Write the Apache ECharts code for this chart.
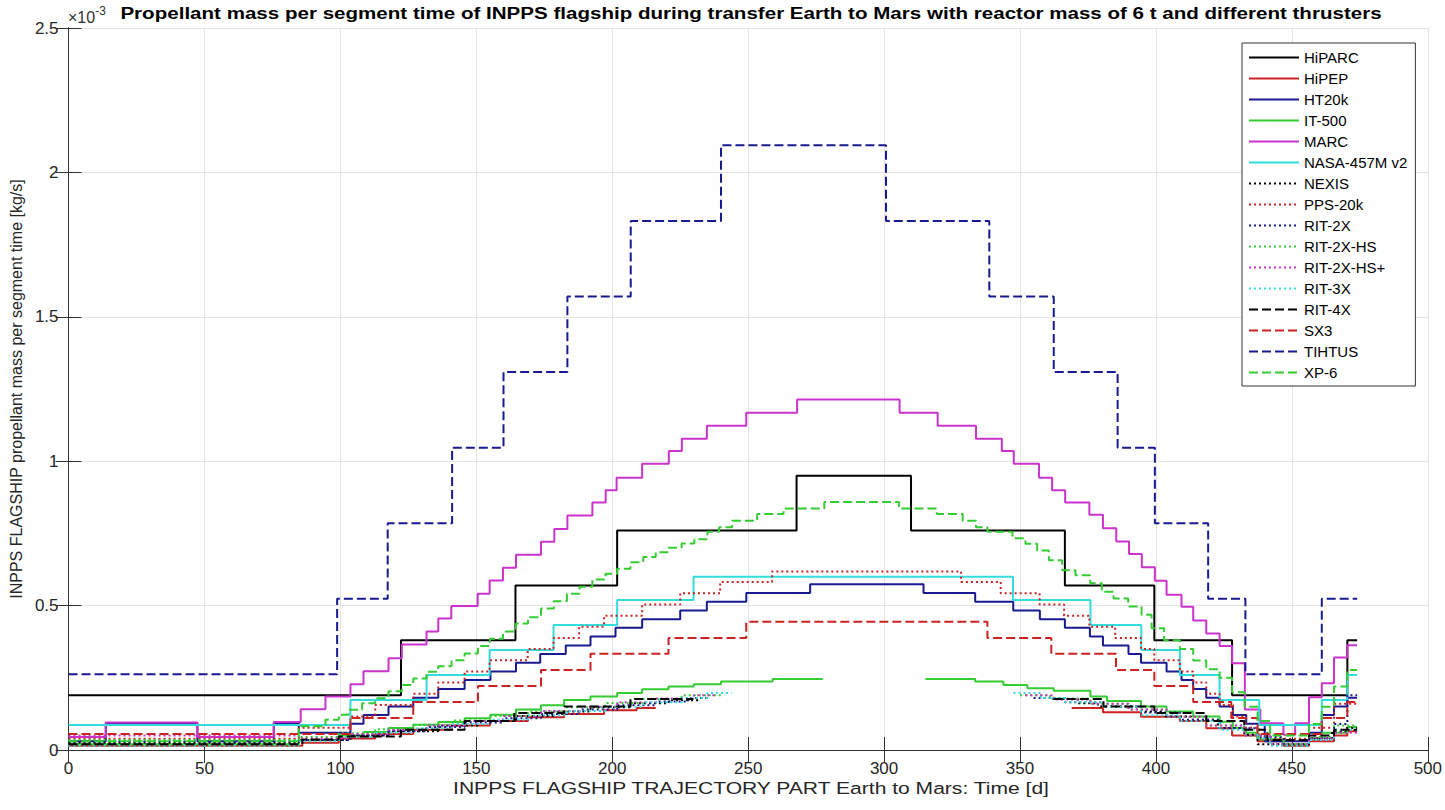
<!DOCTYPE html>
<html><head><meta charset="utf-8">
<script src="https://cdn.jsdelivr.net/npm/echarts@6/dist/echarts.min.js"></script>
<style>html,body{margin:0;padding:0;background:#fff}#c{width:1445px;height:810px}</style>
</head><body><div id="c"></div>
<script>
// All values in units of 1e-3 kg/s. Each series: segment start days (last entry = end day) and segment values.
const names = ['HiPARC','HiPEP','HT20k','IT-500','MARC','NASA-457M v2','NEXIS','PPS-20k','RIT-2X','RIT-2X-HS','RIT-2X-HS+','RIT-3X','RIT-4X','SX3','TIHTUS','XP-6'];

const hiparcDays = [0,122.3,164.4,201.8,267.8,309.9,366.5,399.4,428,470.4,474];
const hiparcVals = [0.19,0.38,0.57,0.76,0.95,0.76,0.57,0.38,0.19,0.38];

const hipepDays = [0,86,99.4,112.8,126.8,140.9,155,169,182.3,197,209,216,369,380.5,394.5,408.8,418.5,428,437.4,447,456.3,465.5,470.4,474];
const hipepVals = [0.015,0.025,0.04,0.055,0.07,0.085,0.1,0.113,0.125,0.138,0.145,null,0.145,0.131,0.115,0.1,0.075,0.05,0.03,0.015,0.03,0.05,0.065];

const ht20kDays = [0,13.7,47.4,75.5,84.7,103.7,108.5,117.7,126.8,136,145.7,155.2,164.6,173.5,182.9,192,201.2,211,225,234.8,249.3,272.8,314.5,333.5,347.5,357.3,366.5,375.7,380.5,389.9,394.5,403.9,409.4,413.7,418.5,423.4,428.3,433.2,440,456.3,461,465.5,470.4,474];
const ht20kVals = [0.03,0.093,0.03,0.093,0.06,0.091,0.121,0.151,0.181,0.211,0.242,0.272,0.302,0.332,0.362,0.393,0.423,0.453,0.483,0.513,0.544,0.574,0.544,0.513,0.483,0.453,0.423,0.393,0.362,0.332,0.302,0.272,0.242,0.211,0.181,0.151,0.121,0.091,0.03,0.06,0.121,0.151,0.181];

const it500Days = [0,84.7,99.4,108.5,117.7,126.8,136,145.7,155.2,164.6,173.8,182.3,192,201.8,211,220.7,230,240,259,277.4,315.2,333.5,343.9,352.7,362.4,375.9,382,394.5,403.9,413.7,423.4,428.3,433.2,437.4,447,456.3,461,470.4,474];
const it500Vals = [0.02,0.035,0.05,0.062,0.076,0.087,0.097,0.11,0.122,0.14,0.155,0.173,0.185,0.197,0.21,0.22,0.228,0.237,0.246,null,0.246,0.237,0.225,0.214,0.205,0.185,0.17,0.151,0.133,0.116,0.098,0.076,0.06,0.037,0.02,0.04,0.06,0.08];

const marcDays = [0,13.7,47.4,75.5,85.4,94.5,103.7,108.5,117.7,122.6,131.7,136,140.8,150.5,154.9,159.8,164.6,173.8,178.7,183.5,192.7,197.6,201.6,211,220.8,225.6,234.8,249.3,268,305.7,319.7,333.8,343.3,347.7,357,361.8,366.6,375.5,380.5,385.4,390.1,394.8,399.6,403.9,409.4,413.7,418.5,423.4,428,432.7,438.4,446.9,451.2,456.3,461,465.5,470.4,474];
const marcVals = [0.045,0.095,0.045,0.097,0.141,0.185,0.228,0.273,0.318,0.365,0.41,0.455,0.499,0.541,0.587,0.631,0.676,0.721,0.765,0.812,0.857,0.899,0.943,0.991,1.035,1.078,1.123,1.168,1.214,1.168,1.123,1.078,1.035,0.991,0.943,0.899,0.857,0.815,0.768,0.722,0.679,0.633,0.586,0.538,0.496,0.448,0.403,0.36,0.3,0.14,0.093,0.053,0.093,0.183,0.231,0.32,0.363];

const nasaDays = [0,103.7,131.7,154.9,178.4,201.8,229.9,347.4,375.9,394.6,408.8,423.4,438,461,470.4,474];
const nasaVals = [0.0866,0.173,0.26,0.346,0.433,0.519,0.6,0.519,0.433,0.346,0.26,0.173,0.0866,0.173,0.26];

const nexisDays = [0,84.7,103.7,117.7,136,150.6,164.6,178.4,192,206.7,220.7,232.7,362,371.3,378.7,394.5,403.2,413,422.8,432.5,437.4,456.3,464.8,469.7,474];
const nexisVals = [0.025,0.035,0.05,0.065,0.085,0.1,0.118,0.133,0.148,0.162,0.172,null,0.177,0.162,0.151,0.133,0.116,0.105,0.076,0.053,0.02,0.041,0.064,0.076];

const ppsDays = [0,84.7,103.7,112.8,126.8,136,145.7,154.9,168.9,178.4,187.8,197,211,225,239.7,258.8,328.3,342.9,357.2,366.2,375.5,385,394.5,399.4,408.8,413.7,418.5,423.4,428.3,433,438,456.3,465.5,474];
const ppsVals = [0.039,0.077,0.116,0.156,0.195,0.234,0.272,0.311,0.35,0.388,0.427,0.465,0.504,0.543,0.582,0.618,0.582,0.543,0.504,0.465,0.427,0.388,0.35,0.311,0.272,0.234,0.195,0.156,0.116,0.077,0.039,0.077,0.16];

const rit2xDays = [0,84.7,103.7,117.7,131.7,145.7,159.8,173.8,188,201.8,216,228,236,355,366.6,380.5,394.5,408.8,423.4,437.4,447,456.3,465.5,470.4,474];
const rit2xVals = [0.03,0.035,0.05,0.065,0.08,0.095,0.11,0.125,0.14,0.155,0.168,0.18,null,0.18,0.165,0.15,0.13,0.105,0.075,0.045,0.015,0.04,0.09,0.19];

const rit2xhsDays = [0,84.7,99.4,112.8,126.8,140.9,155,169,183.3,197.5,211.4,225.5,240,350,361,375.9,389.9,403.9,418.5,432.5,442,456.3,465.5,474];
const rit2xhsVals = [0.035,0.045,0.058,0.072,0.087,0.102,0.118,0.133,0.148,0.163,0.177,0.19,null,0.19,0.178,0.16,0.14,0.115,0.085,0.05,0.02,0.045,0.085];

const rit2xhspDays = [0,84.7,103.7,117.7,131.7,145.7,159.8,173.8,188,201.8,216,230,238,352,362.4,375.9,389.9,403.9,418.5,432.5,442,456.3,465.5,474];
const rit2xhspVals = [0.05,0.04,0.055,0.07,0.085,0.1,0.118,0.135,0.15,0.165,0.178,0.19,null,0.19,0.175,0.16,0.14,0.115,0.085,0.05,0.02,0.04,0.06];

const rit3xDays = [0,84.7,99.4,112.8,126.8,140.9,155,169,183.3,197.5,211.4,225.5,235,243.9,347.6,357.6,366.6,380.5,394.5,408.8,423.4,437.4,442,456.3,465.5,474];
const rit3xVals = [0.015,0.03,0.045,0.06,0.075,0.09,0.105,0.12,0.135,0.15,0.165,0.18,0.197,null,0.197,0.18,0.165,0.15,0.12,0.1,0.07,0.04,0.015,0.035,0.07];

const rit4xDays = [0,86,99.4,122.3,145.7,164,182.3,206.7,229.9,362.4,380.7,399.4,418.5,432.5,441,456.3,465.5,474];
const rit4xVals = [0.02,0.036,0.047,0.07,0.1,0.128,0.151,0.177,null,0.177,0.151,0.128,0.1,0.07,0.035,0.05,0.07];

const sx3Days = [0,103.7,126.8,150.6,173.8,192,220.7,249.3,338,361.5,385.3,399.4,413.7,427.7,437.4,461,470.4,474];
const sx3Vals = [0.0555,0.111,0.166,0.222,0.277,0.333,0.388,0.444,0.388,0.333,0.277,0.222,0.166,0.111,0.0555,0.111,0.166];

const tihtusDays = [0,98.8,117.4,141.1,160,183.5,206.8,240,300.7,338.7,362.4,385.9,399.6,419.2,432.9,461,474];
const tihtusVals = [0.262,0.524,0.785,1.047,1.309,1.57,1.832,2.094,1.832,1.57,1.309,1.047,0.785,0.524,0.262,0.524];

const xp6Days = [0,84.7,94.5,99.4,103,108,112.8,117.7,122.6,126.8,131.7,136,140.9,145.7,150.6,155,159.8,164.6,169,173.8,178.5,183.3,188,192.7,197.5,201.8,206.7,211.4,216,220.7,225.5,230.2,235,239.3,244.1,253.3,263,278,305.5,319.4,328.9,333.8,338,347.2,352,356.3,360.6,365.5,370.4,375.8,380.1,384.4,389.8,394.7,398.4,403,408.8,413.7,418.5,423.4,428,432.6,437.4,442,456.3,461,465.5,470.4,474];
const xp6Vals = [0.03,0.082,0.105,0.122,0.139,0.162,0.179,0.203,0.225,0.248,0.271,0.29,0.311,0.334,0.36,0.385,0.41,0.438,0.46,0.49,0.515,0.541,0.565,0.59,0.61,0.628,0.65,0.668,0.685,0.70,0.715,0.73,0.756,0.771,0.794,0.817,0.836,0.859,0.836,0.817,0.794,0.771,0.756,0.733,0.714,0.691,0.657,0.622,0.605,0.577,0.548,0.525,0.497,0.468,0.422,0.38,0.35,0.31,0.28,0.25,0.2,0.15,0.1,0.05,0.09,0.15,0.22,0.277];

const xTickInterval = 50, yTickInterval = 0.5;

const seriesData = [
  [hiparcDays, hiparcVals], [hipepDays, hipepVals], [ht20kDays, ht20kVals], [it500Days, it500Vals],
  [marcDays, marcVals], [nasaDays, nasaVals], [nexisDays, nexisVals], [ppsDays, ppsVals],
  [rit2xDays, rit2xVals], [rit2xhsDays, rit2xhsVals], [rit2xhspDays, rit2xhspVals], [rit3xDays, rit3xVals],
  [rit4xDays, rit4xVals], [sx3Days, sx3Vals], [tihtusDays, tihtusVals], [xp6Days, xp6Vals]
];

const BLACK='#000000', RED='#cc2222', NAVY='#1a1a90', GREEN='#33cc33', MAG='#cc33cc', CYAN='#33dddd';
const styles = [
  [BLACK,'solid'],[RED,'solid'],[NAVY,'solid'],[GREEN,'solid'],[MAG,'solid'],[CYAN,'solid'],
  [BLACK,[2,3]],[RED,[2,3]],[NAVY,[2,3]],[GREEN,[2,3]],[MAG,[2,3]],[CYAN,[2,3]],
  [BLACK,[9,4]],[RED,[9,4]],[NAVY,[9,4]],[GREEN,[9,4]]
];

function steps(days, vals){
  const pts=[];
  for(let i=0;i<vals.length;i++){
    const v=vals[i];
    if(v===null){ pts.push([days[i],'-']); continue; }
    pts.push([days[i],v]);
    if(i===vals.length-1 || vals[i+1]===null) pts.push([days[i+1],v]);
  }
  return pts;
}

const FONT='Liberation Sans, Arial, sans-serif';
const chart = echarts.init(document.getElementById('c'), null, {renderer:'svg'});
const series = names.map((n,i)=>({
  name:n, type:'line', step:'end', symbol:'none', showSymbol:false, animation:false,
  data: steps(seriesData[i][0], seriesData[i][1]),
  color: styles[i][0],
  lineStyle:{color:styles[i][0], width:2, type:styles[i][1]},
  emphasis:{disabled:true}, z: 2+i
}));

chart.setOption({
  backgroundColor:'#fff',
  animation:false,
  grid:{left:66, right:17, top:28, bottom:60, containLabel:false},
  graphic:[
    {type:'text', x:751, y:5, scaleX:1.21, style:{text:'Propellant mass per segment time of INPPS flagship during transfer Earth to Mars with reactor mass of 6 t and different thrusters', font:'bold 17px '+FONT, fill:'#000', textAlign:'center', textVerticalAlign:'top'}},
    {type:'text', x:751, y:780, scaleX:1.24, style:{text:'INPPS FLAGSHIP TRAJECTORY PART Earth to Mars: Time [d]', font:'17px '+FONT, fill:'#262626', textAlign:'center', textVerticalAlign:'top'}},
    {type:'text', x:68, y:5, style:{text:'{b|×10}{s|-3}', textVerticalAlign:'top', rich:{
      b:{fontSize:16, fontFamily:FONT, fill:'#333', color:'#333', verticalAlign:'bottom', lineHeight:20},
      s:{fontSize:12, fontFamily:FONT, fill:'#333', color:'#333', verticalAlign:'top', lineHeight:20}}}}
  ],
  legend:{
    orient:'vertical', left:1242, top:43, padding:[7,8,6,6], itemWidth:50, itemHeight:15, itemGap:6,
    borderColor:'#333', borderWidth:1, backgroundColor:'#fff', borderRadius:0,
    itemStyle:{opacity:0, color:'transparent', borderWidth:0},
    textStyle:{fontSize:15, fontFamily:FONT, color:'#000'}, data:names, selectedMode:false
  },
  xAxis:[{
    type:'value', min:0, max:500, interval:xTickInterval, position:'bottom',
    axisLine:{show:true, lineStyle:{color:'#333', width:1}},
    axisTick:{show:true, inside:true, length:13, lineStyle:{color:'#333'}},
    axisLabel:{fontSize:17, fontFamily:FONT, color:'#262626', margin:10},
    splitLine:{show:true, lineStyle:{color:'#e4e4e4', width:1}}
  },{
    type:'value', min:0, max:500, interval:xTickInterval, position:'top',
    axisLine:{show:true, lineStyle:{color:'#333', width:1}},
    axisTick:{show:true, inside:true, length:13, lineStyle:{color:'#333'}},
    axisLabel:{show:false}, splitLine:{show:false}
  }],
  yAxis:[{
    type:'value', min:0, max:2.5, interval:yTickInterval, position:'left',
    name:'INPPS FLAGSHIP propellant mass per segment time [kg/s]', nameLocation:'middle', nameGap:40,
    nameTextStyle:{fontSize:16, fontFamily:FONT, color:'#262626'},
    axisLine:{show:true, lineStyle:{color:'#333', width:1}},
    axisTick:{show:true, inside:true, length:13, lineStyle:{color:'#333'}},
    axisLabel:{fontSize:17, fontFamily:FONT, color:'#262626', margin:10},
    splitLine:{show:true, lineStyle:{color:'#e4e4e4', width:1}}
  },{
    type:'value', min:0, max:2.5, interval:yTickInterval, position:'right',
    axisLine:{show:true, lineStyle:{color:'#333', width:1}},
    axisTick:{show:true, inside:true, length:13, lineStyle:{color:'#333'}},
    axisLabel:{show:false}, splitLine:{show:false}
  }],
  series: series
});
</script></body></html>
